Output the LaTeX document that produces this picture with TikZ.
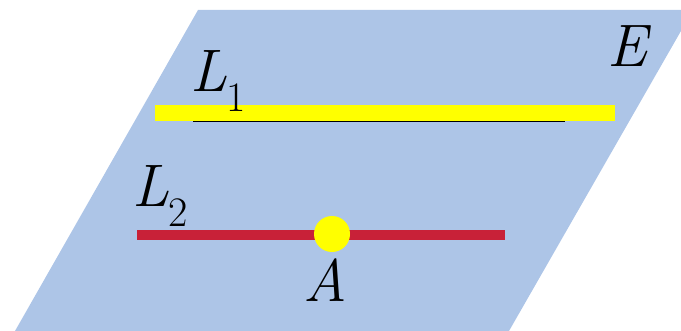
\documentclass[tikz,border=0pt]{standalone}
\usepackage{tikz}
\usetikzlibrary{positioning}
\definecolor{plane}{RGB}{173,197,231}
\definecolor{lineone}{RGB}{255,255,0}
\definecolor{linetwo}{RGB}{200,33,56}
\definecolor{shade}{RGB}{110,150,165}
\newcommand{\sub}[1]{\textsubscript{\upshape #1}}
\begin{document}
\begin{tikzpicture}[x=1pt,y=-1pt,lbl/.style={font=\fontsize{60}{60}\selectfont\itshape,inner sep=0pt}]
\useasboundingbox (0,0) rectangle (681,331);
\begin{scope}
\clip (0,0) rectangle (681,331);
\fill[plane] (198,10)--(693,10)--(509,331)--(15,331)--cycle;
\end{scope}
\coordinate (s1) at (193,121.5); \coordinate (s2) at (565,121.5);
\draw[shade,line width=1.5pt] (s1)--(s2);
\coordinate (a1) at (155,113); \coordinate (b1) at (615,113);
\draw[lineone,line width=16pt] (a1)--(b1);
\coordinate (a2) at (137,235); \coordinate (b2) at (505,235);
\draw[linetwo,line width=10pt] (a2)--(b2);
\node[circle,fill=lineone,minimum size=36pt,inner sep=0pt] (dotA) at (332,234){};
\node[lbl,anchor=base west] (L1) at (190,92){L\sub{1}};
\node[lbl,anchor=base west] (L2) at (132,207){L\sub{2}};
\node[lbl,anchor=base] (A) at (325,302){A};
\node[lbl,anchor=base] (E) at (627,67){E};
\end{tikzpicture}
\end{document}
